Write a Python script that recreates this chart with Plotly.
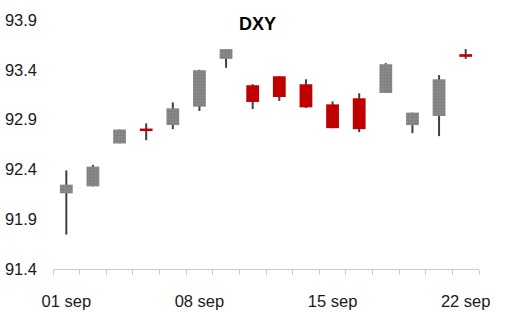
import plotly.graph_objects as go

dates = ["01 sep", "02 sep", "03 sep", "06 sep", "07 sep", "08 sep", "09 sep", "10 sep",
         "13 sep", "14 sep", "15 sep", "16 sep", "17 sep", "20 sep", "21 sep", "22 sep"]
open_ = [92.16, 92.23, 92.66, 92.81, 92.845, 93.03, 93.51, 93.245, 93.335, 93.255, 93.053, 93.114, 93.167, 92.845, 92.936, 93.557]
high = [92.39, 92.445, 92.80, 92.862, 93.073, 93.40, 93.608, 93.255, 93.335, 93.305, 93.083, 93.164, 93.467, 92.97, 93.346, 93.608]
low = [91.746, 92.23, 92.663, 92.693, 92.804, 92.986, 93.42, 93.006, 93.087, 93.016, 92.814, 92.774, 93.167, 92.764, 92.734, 93.51]
close = [92.247, 92.428, 92.80, 92.785, 93.013, 93.396, 93.608, 93.077, 93.127, 93.023, 92.814, 92.804, 93.456, 92.97, 93.305, 93.53]
label_dates = ["01 sep", "08 sep", "15 sep", "22 sep"]
y_ticks = [91.4, 91.9, 92.4, 92.9, 93.4, 93.9]

idx = list(range(len(dates)))
up = [c >= o for o, c in zip(open_, close)]

fig = go.Figure()
# wicks
fig.add_trace(go.Bar(x=idx, base=low, y=[h - l for h, l in zip(high, low)], width=0.075,
                     marker=dict(color="#404040", line=dict(width=0)), hoverinfo="skip"))
# up bodies
ux = [i for i in idx if up[i]]
fig.add_trace(go.Bar(x=ux, base=[open_[i] for i in ux], y=[close[i] - open_[i] for i in ux], width=0.48,
                     marker=dict(color="#8a8a8a", line=dict(width=0),
                                 pattern=dict(shape=".", fgcolor="#6a6a6a", bgcolor="#8a8a8a", size=3, solidity=0.4))))
# down bodies
dx = [i for i in idx if not up[i]]
fig.add_trace(go.Bar(x=dx, base=[close[i] for i in dx], y=[open_[i] - close[i] for i in dx], width=0.48,
                     marker=dict(color="#c00000", line=dict(width=0))))

fig.update_layout(
    width=505, height=312, barmode="overlay", showlegend=False,
    paper_bgcolor="white", plot_bgcolor="white",
    margin=dict(l=53, r=26, t=20, b=43),
    font=dict(family="Liberation Sans", size=16.5, color="#1a1a1a"),
    title=dict(text="<b>DXY</b>", x=0.51, xanchor="center", y=0.925, yanchor="middle",
               font=dict(family="Liberation Sans", size=18, color="black")),
    xaxis=dict(range=[-0.5, len(dates) - 0.5], tickmode="array", automargin=False,
               tickvals=[dates.index(d) for d in label_dates], ticktext=label_dates,
               ticks="", showgrid=False, zeroline=False, showline=True, linecolor="#cccccc", linewidth=1,
               ticklabelstandoff=17,
               minor=dict(tick0=-0.5, dtick=1, ticks="outside", ticklen=5, tickcolor="#cccccc", showgrid=False)),
    yaxis=dict(range=[91.4, 93.9], tickmode="array", tickvals=y_ticks, ticktext=[f"{v:.1f}" for v in y_ticks],
               automargin=False,
               showgrid=False, zeroline=False, showline=False, ticks="", ticklabelstandoff=15),
)
fig.write_html("out.html")
